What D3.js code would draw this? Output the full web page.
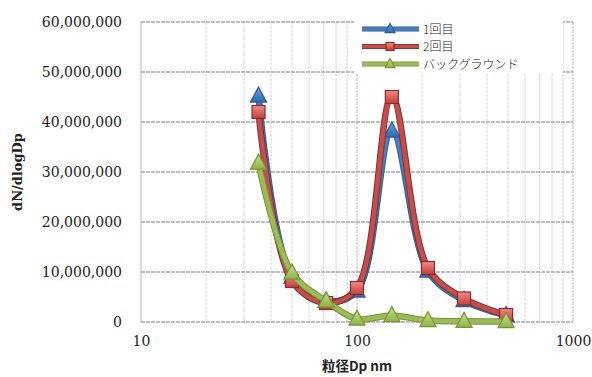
<!DOCTYPE html>
<html>
<head>
<meta charset="utf-8">
<script src="https://cdn.jsdelivr.net/npm/d3@7"></script>
<style>
  body { margin: 0; background: #fff; }
  svg { display: block; }
  .tick text { font-family: "DejaVu Serif", serif; font-size: 14px; fill: #222; }
</style>
</head>
<body>
<svg id="chart" width="592" height="377"></svg>
<script>
// particle size (nm)
let sizes = [35, 50, 72, 100, 145, 213, 313, 490];

let run1 = [45200000, 9000000, 4200000, 6200000, 38200000, 10200000, 4300000, 1300000];
let run2 = [42000000, 8200000, 3800000, 6800000, 45000000, 10800000, 4700000, 1400000];
let background = [31800000, 9800000, 4200000, 600000, 1300000, 300000, 150000, 100000];

let seriesNames = ["1回目", "2回目", "バックグラウンド"];
let yTicks = [0, 10000000, 20000000, 30000000, 40000000, 50000000, 60000000];
let xTicks = [10, 100, 1000];

let margin = {top: 22, right: 19, bottom: 55, left: 141};
let width = 592;
let height = 377;

let svg = d3.select("#chart");

let x = d3.scaleLog()
    .domain([10, 1000])
    .range([margin.left, width - margin.right]);

let y = d3.scaleLinear()
    .domain([0, 60000000])
    .range([height - margin.bottom, margin.top]);

// minor vertical grid
let minor = [];
for (let d = 10; d < 1000; d *= 10) {
    for (let k = 1; k <= 10; k++) minor.push(d * k);
}
minor = Array.from(new Set(minor));

svg.append("g")
    .selectAll("line")
    .data(minor)
    .enter().append("line")
    .attr("x1", d => x(d))
    .attr("x2", d => x(d))
    .attr("y1", y(60000000))
    .attr("y2", y(0))
    .attr("stroke", d => (d === 10 || d === 100 || d === 1000) ? "#b8b8b8" : "#d4d4d4")
    .attr("stroke-width", 1)
    .attr("stroke-dasharray", d => d === 10 ? null : "3,1");

svg.append("g")
    .selectAll("line")
    .data(yTicks)
    .enter().append("line")
    .attr("x1", x(10))
    .attr("x2", x(1000))
    .attr("y1", d => y(d))
    .attr("y2", d => y(d))
    .attr("stroke", "#a8a8a8")
    .attr("stroke-width", 1.3)
    .attr("stroke-dasharray", "4,1");

// y axis labels
let yAxis = d3.axisLeft(y)
    .tickValues(yTicks)
    .tickSize(0)
    .tickPadding(19)
    .tickFormat(d3.format(","));

svg.append("g")
    .attr("transform", `translate(${margin.left},0)`)
    .call(yAxis)
    .call(g => g.select(".domain").remove());

// x axis labels
let xAxis = d3.axisBottom(x)
    .tickValues(xTicks)
    .tickSize(0)
    .tickPadding(14)
    .tickFormat(d3.format("d"));

svg.append("g")
    .attr("transform", `translate(0,${y(0)})`)
    .call(xAxis)
    .call(g => g.select(".domain").remove());

// axis titles
svg.append("text")
    .attr("transform", "translate(22,172) rotate(-90)")
    .attr("text-anchor", "middle")
    .style("font-family", "'DejaVu Serif', serif")
    .style("font-weight", "bold")
    .style("font-size", "13px")
    .attr("fill", "#222")
    .text("dN/dlogDp");

svg.append("text")
    .attr("x", 357)
    .attr("y", 371)
    .attr("text-anchor", "middle")
    .style("font-family", "'Noto Sans CJK JP', 'DejaVu Serif', serif")
    .style("font-weight", "bold")
    .style("font-size", "13.5px")
    .attr("fill", "#222")
    .text("粒径Dp nm");

// legend background covers grid
svg.append("rect")
    .attr("x", 354)
    .attr("y", 21)
    .attr("width", 209)
    .attr("height", 53)
    .attr("fill", "#fff");

let defs = svg.append("defs");
function grad(id, c1, c2) {
    let g = defs.append("linearGradient")
        .attr("id", id)
        .attr("x1", 0).attr("y1", 0).attr("x2", 0).attr("y2", 1);
    g.append("stop").attr("offset", "0%").attr("stop-color", c1);
    g.append("stop").attr("offset", "100%").attr("stop-color", c2);
}
grad("gBlue", "#6fa0dc", "#2f68b0");
grad("gRed", "#f08a88", "#c0403c");
grad("gGreen", "#c7e08a", "#8fb347");

let series = [
    {name: seriesNames[0], values: run1, color: "#4a7ebb", edge: "#2b5c99", fill: "url(#gBlue)", shape: "tri"},
    {name: seriesNames[1], values: run2, color: "#c0504d", edge: "#8c2b28", fill: "url(#gRed)", shape: "sq"},
    {name: seriesNames[2], values: background, color: "#9bbb59", edge: "#76943b", fill: "url(#gGreen)", shape: "tri"}
];

let line = d3.line()
    .x(d => x(d[0]))
    .y(d => y(d[1]))
    .curve(d3.curveCatmullRom.alpha(0.5));

function marker(g, shape, size, fill, edge) {
    if (shape === "sq") {
        g.append("rect")
            .attr("x", -size / 2)
            .attr("y", -size / 2)
            .attr("width", size)
            .attr("height", size)
            .attr("fill", fill)
            .attr("stroke", edge)
            .attr("stroke-width", 1.2);
    } else {
        let s = size * 0.62;
        g.append("path")
            .attr("d", `M0,${-s * 1.1} L${s},${s * 0.75} L${-s},${s * 0.75} Z`)
            .attr("fill", fill)
            .attr("stroke", edge)
            .attr("stroke-width", 1.2);
    }
}

series.forEach(s => {
    let pts = sizes.map((d, i) => [d, s.values[i]]);
    let g = svg.append("g");
    g.append("path")
        .attr("d", line(pts))
        .attr("fill", "none")
        .attr("stroke", s.edge)
        .attr("stroke-width", 6.5)
        .attr("stroke-linejoin", "round");
    g.append("path")
        .attr("d", line(pts))
        .attr("fill", "none")
        .attr("stroke", s.color)
        .attr("stroke-width", 4.5)
        .attr("stroke-linejoin", "round");
    pts.forEach(p => {
        let m = g.append("g")
            .attr("transform", `translate(${x(p[0])},${y(p[1])})`);
        marker(m, s.shape, 13, s.fill, s.edge);
    });
});

// legend
let legendY = [29, 46.5, 64];
series.forEach((s, i) => {
    let g = svg.append("g").attr("transform", `translate(0,${legendY[i]})`);
    g.append("line")
        .attr("x1", 362).attr("x2", 419)
        .attr("stroke", s.edge).attr("stroke-width", 5);
    g.append("line")
        .attr("x1", 362).attr("x2", 419)
        .attr("stroke", s.color).attr("stroke-width", 3.5);
    let m = g.append("g").attr("transform", "translate(390,0)");
    marker(m, s.shape, 8, s.fill, s.edge);
    g.append("text")
        .attr("x", 423)
        .attr("y", 4.5)
        .style("font-family", "'Noto Sans CJK JP', sans-serif")
        .style("font-size", "12px")
        .style("font-weight", "300")
        .attr("fill", "#222")
        .text(s.name);
});
</script>
</body>
</html>
